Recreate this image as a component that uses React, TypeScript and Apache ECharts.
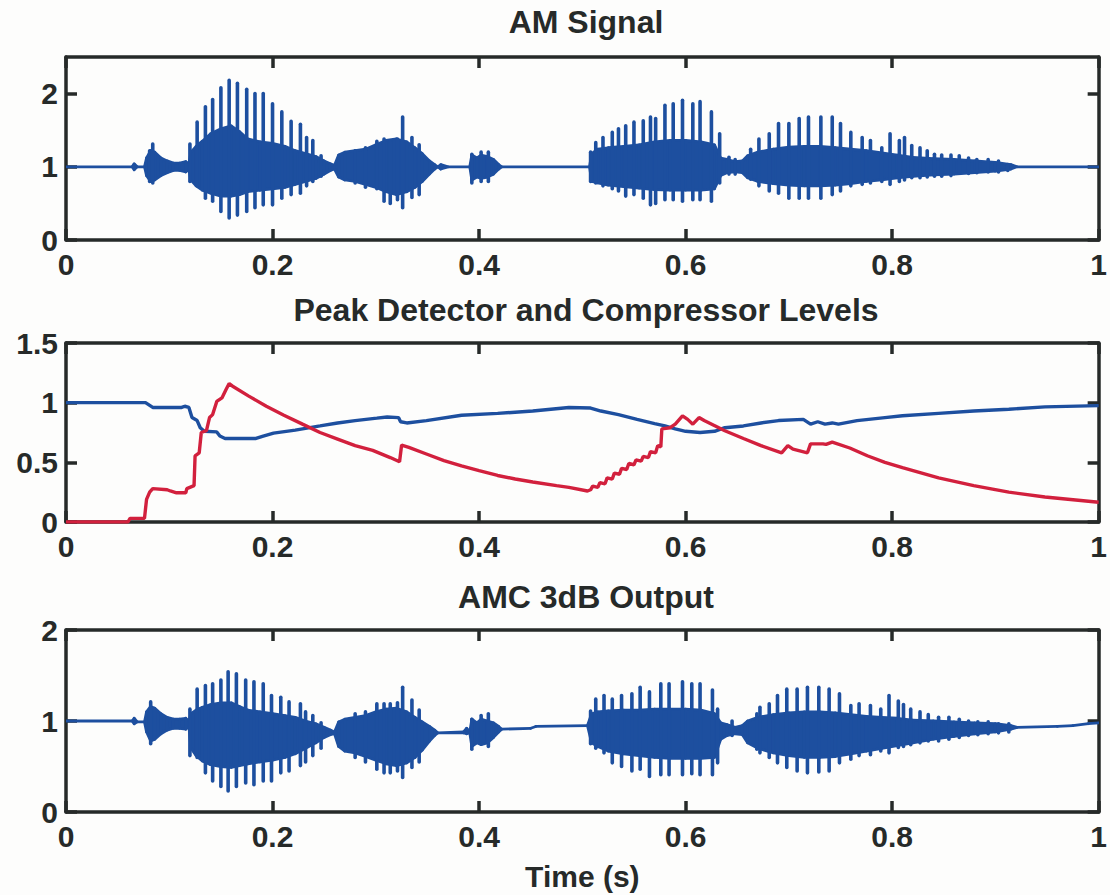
import { useEffect, useRef } from "react";
import * as echarts from "echarts";

// ---------- tick values ----------
const timeTicks = [0, 0.2, 0.4, 0.6, 0.8, 1];
const amTicks = [0, 1, 2];
const levelTicks = [0, 0.5, 1, 1.5];
const outTicks = [0, 1, 2];

const titles = ["AM Signal", "Peak Detector and Compressor Levels", "AMC 3dB Output"];
const timeLabel = "Time (s)";

// ---------- AM Signal: dense core envelope [t, low, high] ----------
const amCore: number[][] = [
  [0, 1, 1], [0.064, 1, 1], [0.066, 0.96, 1.04], [0.069, 1, 1], [0.076, 1, 1],
  [0.078, 0.88, 1.12], [0.082, 0.8, 1.22], [0.086, 0.82, 1.2], [0.092, 0.88, 1.12],
  [0.098, 0.92, 1.08], [0.104, 0.95, 1.05], [0.11, 0.95, 1.05], [0.116, 0.93, 1.07],
  [0.119, 0.96, 1.04], [0.121, 0.82, 1.2], [0.126, 0.74, 1.28], [0.132, 0.68, 1.35],
  [0.14, 0.64, 1.45], [0.15, 0.6, 1.52], [0.16, 0.6, 1.56], [0.168, 0.62, 1.48],
  [0.176, 0.66, 1.38], [0.188, 0.68, 1.34], [0.2, 0.7, 1.32], [0.212, 0.72, 1.28],
  [0.222, 0.76, 1.22], [0.232, 0.8, 1.18], [0.242, 0.84, 1.14], [0.25, 0.9, 1.08],
  [0.256, 0.95, 1.04], [0.26, 0.97, 1.02], [0.264, 0.86, 1.16], [0.27, 0.82, 1.2],
  [0.28, 0.8, 1.22], [0.29, 0.76, 1.24], [0.3, 0.72, 1.3], [0.31, 0.66, 1.36],
  [0.32, 0.62, 1.38], [0.33, 0.66, 1.34], [0.338, 0.72, 1.26], [0.345, 0.8, 1.18],
  [0.352, 0.9, 1.08], [0.357, 0.97, 1.03], [0.36, 1, 1], [0.363, 0.97, 1.03],
  [0.37, 1, 1], [0.391, 1, 1], [0.393, 0.82, 1.16], [0.398, 0.86, 1.12],
  [0.402, 0.84, 1.16], [0.408, 0.86, 1.14], [0.414, 0.9, 1.1], [0.419, 0.97, 1.03],
  [0.422, 1, 1], [0.507, 1, 1], [0.509, 0.8, 1.18], [0.515, 0.78, 1.24],
  [0.525, 0.75, 1.26], [0.54, 0.73, 1.28], [0.555, 0.71, 1.3], [0.57, 0.69, 1.34],
  [0.585, 0.68, 1.36], [0.6, 0.68, 1.36], [0.615, 0.68, 1.34], [0.628, 0.7, 1.3],
  [0.634, 0.88, 1.12], [0.64, 0.92, 1.1], [0.648, 0.93, 1.07], [0.655, 0.92, 1.08],
  [0.66, 0.85, 1.15], [0.67, 0.8, 1.2], [0.685, 0.77, 1.24], [0.7, 0.75, 1.27],
  [0.715, 0.74, 1.28], [0.73, 0.74, 1.28], [0.745, 0.75, 1.26], [0.76, 0.77, 1.24],
  [0.775, 0.8, 1.22], [0.79, 0.82, 1.19], [0.805, 0.85, 1.16], [0.82, 0.87, 1.13],
  [0.84, 0.89, 1.11], [0.86, 0.9, 1.1], [0.88, 0.92, 1.08], [0.9, 0.94, 1.06],
  [0.915, 0.97, 1.03], [0.921, 1, 1], [1, 1, 1],
];

// ---------- AM Signal: pitch spikes [t, low, high] ----------
const amSpikes: number[][] = [
  [0.081, 0.8, 1.22], [0.084, 0.78, 1.31],
  [0.12, 0.8, 1.31], [0.127, 0.74, 1.61], [0.135, 0.57, 1.82], [0.142, 0.53, 1.92],
  [0.15, 0.39, 2.08], [0.158, 0.3, 2.18], [0.166, 0.34, 2.14], [0.175, 0.39, 2.06],
  [0.183, 0.44, 2.0], [0.191, 0.48, 2.0], [0.2, 0.48, 1.86], [0.209, 0.57, 1.75],
  [0.218, 0.62, 1.62], [0.227, 0.64, 1.58], [0.233, 0.74, 1.4], [0.239, 0.8, 1.36],
  [0.247, 0.87, 1.15],
  [0.28, 0.78, 1.22], [0.29, 0.72, 1.26], [0.301, 0.7, 1.35], [0.308, 0.53, 1.38],
  [0.314, 0.5, 1.35], [0.321, 0.55, 1.38], [0.326, 0.44, 1.68], [0.335, 0.58, 1.4],
  [0.342, 0.62, 1.3],
  [0.393, 0.78, 1.17], [0.402, 0.8, 1.2], [0.409, 0.8, 1.2],
  [0.508, 0.8, 1.2], [0.513, 0.78, 1.33], [0.52, 0.74, 1.4], [0.529, 0.7, 1.47],
  [0.535, 0.67, 1.52], [0.542, 0.6, 1.56], [0.55, 0.62, 1.61], [0.559, 0.57, 1.63],
  [0.566, 0.48, 1.68], [0.571, 0.5, 1.66], [0.58, 0.55, 1.84], [0.588, 0.55, 1.86],
  [0.597, 0.53, 1.91], [0.607, 0.55, 1.86], [0.614, 0.55, 1.89], [0.625, 0.53, 1.75],
  [0.633, 0.78, 1.45], [0.642, 0.9, 1.13], [0.648, 0.9, 1.1],
  [0.663, 0.83, 1.24], [0.671, 0.74, 1.38], [0.681, 0.67, 1.45], [0.69, 0.64, 1.59],
  [0.7, 0.57, 1.59], [0.71, 0.57, 1.66], [0.719, 0.57, 1.68], [0.731, 0.57, 1.68],
  [0.742, 0.62, 1.68], [0.75, 0.67, 1.59], [0.76, 0.74, 1.47], [0.771, 0.76, 1.4],
  [0.779, 0.78, 1.36], [0.79, 0.8, 1.26], [0.798, 0.76, 1.45], [0.807, 0.8, 1.36],
  [0.812, 0.82, 1.4], [0.819, 0.85, 1.29], [0.827, 0.85, 1.26], [0.834, 0.86, 1.22],
  [0.841, 0.87, 1.17], [0.848, 0.87, 1.16], [0.857, 0.88, 1.16], [0.865, 0.92, 1.15],
  [0.874, 0.91, 1.12], [0.882, 0.92, 1.1], [0.893, 0.93, 1.1], [0.903, 0.93, 1.08],
  [0.912, 0.95, 1.03],
];

// ---------- Peak detector / compressor levels [t, value] ----------
const gainLevel: number[][] = [
  [0, 1.0], [0.077, 1.0], [0.084, 0.96], [0.112, 0.96], [0.115, 0.97], [0.119, 0.96],
  [0.122, 0.875], [0.127, 0.85], [0.13, 0.79], [0.134, 0.76], [0.146, 0.755],
  [0.149, 0.72], [0.154, 0.7], [0.184, 0.7], [0.191, 0.72], [0.201, 0.745],
  [0.222, 0.77], [0.246, 0.805], [0.263, 0.83], [0.28, 0.85], [0.301, 0.87],
  [0.311, 0.88], [0.322, 0.875], [0.324, 0.84], [0.33, 0.83], [0.349, 0.85],
  [0.383, 0.895], [0.418, 0.91], [0.452, 0.93], [0.487, 0.96], [0.508, 0.955],
  [0.518, 0.93], [0.535, 0.9], [0.553, 0.86], [0.57, 0.825], [0.58, 0.805],
  [0.59, 0.78], [0.6, 0.76], [0.614, 0.75], [0.628, 0.76], [0.638, 0.79],
  [0.656, 0.805], [0.673, 0.83], [0.69, 0.85], [0.714, 0.86], [0.721, 0.82],
  [0.728, 0.84], [0.735, 0.82], [0.742, 0.83], [0.748, 0.82], [0.766, 0.85],
  [0.793, 0.875], [0.81, 0.89], [0.845, 0.91], [0.879, 0.93], [0.913, 0.945],
  [0.948, 0.965], [1.0, 0.975],
];

const peakLevel: number[][] = [
  [0, 0], [0.06, 0], [0.062, 0.03], [0.076, 0.03], [0.078, 0.19], [0.081, 0.25],
  [0.084, 0.28], [0.098, 0.27], [0.101, 0.26], [0.107, 0.245], [0.116, 0.245],
  [0.117, 0.28], [0.124, 0.305], [0.125, 0.555], [0.129, 0.58], [0.131, 0.75],
  [0.136, 0.765], [0.139, 0.875], [0.142, 0.9], [0.146, 1.01], [0.151, 1.04],
  [0.155, 1.11], [0.158, 1.16], [0.161, 1.14], [0.177, 1.055], [0.194, 0.97],
  [0.211, 0.895], [0.229, 0.82], [0.246, 0.75], [0.263, 0.695], [0.28, 0.64],
  [0.297, 0.6], [0.314, 0.54], [0.323, 0.505], [0.325, 0.645], [0.332, 0.625],
  [0.349, 0.57], [0.366, 0.515], [0.383, 0.47], [0.4, 0.43], [0.418, 0.39],
  [0.435, 0.36], [0.452, 0.335], [0.475, 0.305], [0.487, 0.29], [0.505, 0.26],
  [0.508, 0.27], [0.51, 0.3], [0.515, 0.29], [0.517, 0.33], [0.522, 0.32],
  [0.524, 0.37], [0.529, 0.36], [0.531, 0.41], [0.536, 0.4], [0.538, 0.45],
  [0.543, 0.44], [0.545, 0.49], [0.55, 0.48], [0.552, 0.52], [0.557, 0.51],
  [0.559, 0.55], [0.564, 0.54], [0.566, 0.59], [0.571, 0.58], [0.573, 0.64],
  [0.576, 0.63], [0.577, 0.78], [0.585, 0.79], [0.59, 0.82], [0.597, 0.89],
  [0.602, 0.86], [0.607, 0.82], [0.613, 0.875], [0.618, 0.85], [0.638, 0.765],
  [0.656, 0.7], [0.673, 0.64], [0.693, 0.58], [0.699, 0.64], [0.704, 0.61],
  [0.718, 0.58], [0.721, 0.655], [0.733, 0.655], [0.736, 0.65], [0.742, 0.67],
  [0.759, 0.62], [0.776, 0.555], [0.793, 0.5], [0.81, 0.455], [0.845, 0.37],
  [0.879, 0.305], [0.913, 0.25], [0.948, 0.21], [1.0, 0.165],
];

// ---------- AMC 3dB Output: core envelope [t, low, high] ----------
const outCore: number[][] = [
  [0, 1, 1], [0.064, 1, 1], [0.066, 0.97, 1.03], [0.069, 0.99, 0.99], [0.076, 0.99, 0.99],
  [0.078, 0.88, 1.1], [0.082, 0.78, 1.16], [0.086, 0.8, 1.14], [0.092, 0.86, 1.08],
  [0.098, 0.9, 1.04], [0.104, 0.92, 1.02], [0.11, 0.92, 1.02], [0.116, 0.91, 1.03],
  [0.119, 0.94, 1.0], [0.121, 0.7, 1.08], [0.126, 0.62, 1.12], [0.132, 0.56, 1.15],
  [0.14, 0.52, 1.18], [0.15, 0.5, 1.2], [0.16, 0.49, 1.2], [0.168, 0.51, 1.16],
  [0.176, 0.53, 1.12], [0.188, 0.55, 1.1], [0.2, 0.57, 1.08], [0.212, 0.6, 1.06],
  [0.222, 0.64, 1.04], [0.232, 0.7, 1.0], [0.242, 0.76, 0.97], [0.25, 0.82, 0.93],
  [0.256, 0.85, 0.9], [0.26, 0.86, 0.88], [0.264, 0.72, 0.99], [0.27, 0.67, 1.02],
  [0.28, 0.65, 1.04], [0.29, 0.61, 1.06], [0.3, 0.57, 1.1], [0.31, 0.53, 1.13],
  [0.32, 0.51, 1.14], [0.33, 0.54, 1.1], [0.338, 0.6, 1.04], [0.345, 0.68, 0.99],
  [0.352, 0.78, 0.94], [0.357, 0.84, 0.9], [0.36, 0.87, 0.87], [0.385, 0.87, 0.88],
  [0.388, 0.86, 0.92], [0.391, 0.87, 0.88], [0.393, 0.72, 1.02], [0.398, 0.76, 0.98],
  [0.402, 0.74, 1.02], [0.408, 0.76, 1.0], [0.414, 0.82, 0.98], [0.419, 0.88, 0.94],
  [0.422, 0.91, 0.91], [0.45, 0.92, 0.92], [0.455, 0.94, 0.94], [0.505, 0.95, 0.95],
  [0.509, 0.76, 1.08], [0.515, 0.72, 1.1], [0.525, 0.67, 1.11], [0.54, 0.64, 1.12],
  [0.555, 0.62, 1.12], [0.57, 0.6, 1.13], [0.585, 0.59, 1.13], [0.6, 0.59, 1.13],
  [0.615, 0.59, 1.12], [0.628, 0.6, 1.08], [0.634, 0.8, 0.98], [0.64, 0.84, 0.96],
  [0.648, 0.86, 0.93], [0.655, 0.85, 0.95], [0.66, 0.76, 1.0], [0.67, 0.7, 1.04],
  [0.685, 0.65, 1.07], [0.7, 0.62, 1.09], [0.715, 0.6, 1.1], [0.73, 0.6, 1.1],
  [0.745, 0.61, 1.09], [0.76, 0.64, 1.07], [0.775, 0.67, 1.05], [0.79, 0.7, 1.04],
  [0.805, 0.73, 1.03], [0.82, 0.76, 1.01], [0.84, 0.8, 1.0], [0.86, 0.83, 0.99],
  [0.88, 0.86, 0.98], [0.9, 0.88, 0.97], [0.915, 0.91, 0.95], [0.921, 0.93, 0.93],
  [0.96, 0.94, 0.94], [0.975, 0.95, 0.95], [0.99, 0.97, 0.97], [1, 0.98, 0.98],
];

// ---------- AMC 3dB Output: pitch spikes [t, low, high] ----------
const outSpikes: number[][] = [
  [0.082, 0.75, 1.21],
  [0.12, 0.62, 1.13], [0.127, 0.6, 1.35], [0.135, 0.43, 1.39], [0.142, 0.34, 1.41],
  [0.15, 0.28, 1.45], [0.157, 0.23, 1.54], [0.165, 0.28, 1.52], [0.174, 0.32, 1.45],
  [0.182, 0.3, 1.43], [0.191, 0.34, 1.41], [0.199, 0.34, 1.28], [0.208, 0.43, 1.26],
  [0.216, 0.45, 1.21], [0.227, 0.51, 1.19], [0.232, 0.55, 1.1], [0.239, 0.62, 1.06],
  [0.247, 0.7, 0.98],
  [0.28, 0.6, 1.08], [0.29, 0.55, 1.1], [0.301, 0.47, 1.19], [0.308, 0.43, 1.19],
  [0.314, 0.43, 1.19], [0.321, 0.45, 1.2], [0.326, 0.38, 1.37], [0.335, 0.49, 1.23],
  [0.342, 0.55, 1.12],
  [0.393, 0.69, 1.02], [0.402, 0.75, 1.06], [0.409, 0.72, 1.08],
  [0.508, 0.75, 1.11], [0.513, 0.7, 1.24], [0.521, 0.65, 1.28], [0.529, 0.54, 1.24],
  [0.538, 0.5, 1.28], [0.548, 0.45, 1.3], [0.556, 0.47, 1.37], [0.565, 0.39, 1.32],
  [0.576, 0.41, 1.41], [0.584, 0.41, 1.41], [0.597, 0.41, 1.43], [0.606, 0.42, 1.41],
  [0.614, 0.41, 1.41], [0.626, 0.41, 1.34], [0.631, 0.54, 1.13], [0.645, 0.84, 1.0],
  [0.669, 0.69, 1.08], [0.672, 0.65, 1.15], [0.681, 0.6, 1.19], [0.689, 0.54, 1.28],
  [0.698, 0.49, 1.35], [0.708, 0.45, 1.35], [0.718, 0.43, 1.37], [0.729, 0.44, 1.37],
  [0.739, 0.45, 1.35], [0.749, 0.54, 1.3], [0.76, 0.58, 1.17], [0.768, 0.62, 1.19],
  [0.779, 0.63, 1.17], [0.789, 0.67, 1.13], [0.797, 0.65, 1.28], [0.806, 0.71, 1.22],
  [0.811, 0.72, 1.18], [0.818, 0.74, 1.13], [0.827, 0.76, 1.1], [0.835, 0.78, 1.07],
  [0.845, 0.78, 1.04], [0.855, 0.8, 1.04], [0.865, 0.82, 1.02], [0.874, 0.84, 1.0],
  [0.883, 0.85, 0.99], [0.893, 0.86, 0.99], [0.903, 0.87, 0.97], [0.913, 0.88, 0.97],
];

// ---------- styling ----------
const INK = "#262a29";
const BLUE = "#1d4f9f";
const RED = "#d2203d";
const FONT = "'Liberation Sans', Arial, Helvetica, sans-serif";
const FS = 30;
const TITLE_FS = 32;

const grids = [
  { left: 66, right: 4, top: 57, height: 183 },
  { left: 66, right: 4, top: 343, height: 179 },
  { left: 66, right: 4, top: 630, height: 182 },
];
const yRanges = [
  { min: 0, max: 2.5, ticks: amTicks },
  { min: 0, max: 1.5, ticks: levelTicks },
  { min: 0, max: 2, ticks: outTicks },
];

const lineCommon = {
  axisLine: { show: true, onZero: false, lineStyle: { color: INK, width: 3.5 } },
  splitLine: { show: false },
};
const tickStyle = { show: true, inside: true, length: 11, lineStyle: { color: INK, width: 3.5 } };
const labelStyle = { color: INK, fontSize: FS, fontWeight: "bold", fontFamily: FONT };

function bandRenderer(rows: number[][]) {
  return (params: any, api: any) => {
    const i = params.dataIndex;
    if (i >= rows.length - 1) return null;
    const a = rows[i];
    const b = rows[i + 1];
    const pts = [
      api.coord([a[0], a[2]]),
      api.coord([b[0], b[2]]),
      api.coord([b[0], b[1]]),
      api.coord([a[0], a[1]]),
    ];
    return {
      type: "polygon",
      shape: { points: pts },
      style: { fill: BLUE, stroke: BLUE, lineWidth: 2.8, lineJoin: "round" },
    };
  };
}

function spikeRenderer(params: any, api: any) {
  const t = api.value(0);
  const p1 = api.coord([t, api.value(1)]);
  const p2 = api.coord([t, api.value(2)]);
  return {
    type: "line",
    shape: { x1: p1[0], y1: p1[1], x2: p2[0], y2: p2[1] },
    style: { stroke: BLUE, lineWidth: 3.6, lineCap: "round" },
  };
}

export default function App() {
  const ref = useRef<HTMLDivElement>(null);
  useEffect(() => {
    if (!ref.current) return;
    const chart = echarts.init(ref.current, undefined, { renderer: "svg" });

    const xAxis: any[] = [];
    const yAxis: any[] = [];
    grids.forEach((_, g) => {
      xAxis.push({
        type: "value", gridIndex: g, min: 0, max: 1, interval: 0.2, position: "bottom",
        ...lineCommon,
        axisTick: { ...tickStyle, customValues: timeTicks },
        axisLabel: { ...labelStyle, margin: 9, customValues: timeTicks },
        ...(g === 2
          ? { name: timeLabel, nameLocation: "middle", nameGap: 49, nameTextStyle: { ...labelStyle } }
          : {}),
      });
      xAxis.push({
        type: "value", gridIndex: g, min: 0, max: 1, interval: 0.2, position: "top",
        ...lineCommon,
        axisTick: { ...tickStyle, customValues: timeTicks },
        axisLabel: { show: false },
      });
      const yr = yRanges[g];
      yAxis.push({
        type: "value", gridIndex: g, min: yr.min, max: yr.max, position: "left",
        ...lineCommon,
        axisTick: { ...tickStyle, customValues: yr.ticks },
        axisLabel: { ...labelStyle, margin: 8, customValues: yr.ticks },
      });
      yAxis.push({
        type: "value", gridIndex: g, min: yr.min, max: yr.max, position: "right",
        ...lineCommon,
        axisTick: { ...tickStyle, customValues: yr.ticks },
        axisLabel: { show: false },
      });
    });

    const titleY = [22, 310, 597];
    const graphic = titles.map((text, i) => ({
      type: "text",
      x: 586,
      y: titleY[i],
      style: {
        text,
        fill: INK,
        font: `bold ${TITLE_FS}px ${FONT}`,
        textAlign: "center",
        textVerticalAlign: "middle",
      },
      z: 10,
    }));

    chart.setOption({
      animation: false,
      backgroundColor: "#fdfdfc",
      grid: grids,
      xAxis,
      yAxis,
      graphic,
      series: [
        {
          type: "custom", xAxisIndex: 0, yAxisIndex: 0, data: amCore,
          encode: { x: 0, y: [1, 2] }, renderItem: bandRenderer(amCore), clip: true,
        },
        {
          type: "custom", xAxisIndex: 0, yAxisIndex: 0, data: amSpikes,
          encode: { x: 0, y: [1, 2] }, renderItem: spikeRenderer, clip: true,
        },
        {
          type: "line", xAxisIndex: 2, yAxisIndex: 2, data: gainLevel, showSymbol: false,
          lineStyle: { color: BLUE, width: 3.4 }, itemStyle: { color: BLUE },
        },
        {
          type: "line", xAxisIndex: 2, yAxisIndex: 2, data: peakLevel, showSymbol: false,
          lineStyle: { color: RED, width: 3.4 }, itemStyle: { color: RED },
        },
        {
          type: "custom", xAxisIndex: 4, yAxisIndex: 4, data: outCore,
          encode: { x: 0, y: [1, 2] }, renderItem: bandRenderer(outCore), clip: true,
        },
        {
          type: "custom", xAxisIndex: 4, yAxisIndex: 4, data: outSpikes,
          encode: { x: 0, y: [1, 2] }, renderItem: spikeRenderer, clip: true,
        },
      ],
    });
    return () => chart.dispose();
  }, []);

  return (
    <div
      ref={ref}
      style={{ position: "fixed", left: 0, top: 0, width: 1110, height: 895, background: "#fdfdfc" }}
    />
  );
}
